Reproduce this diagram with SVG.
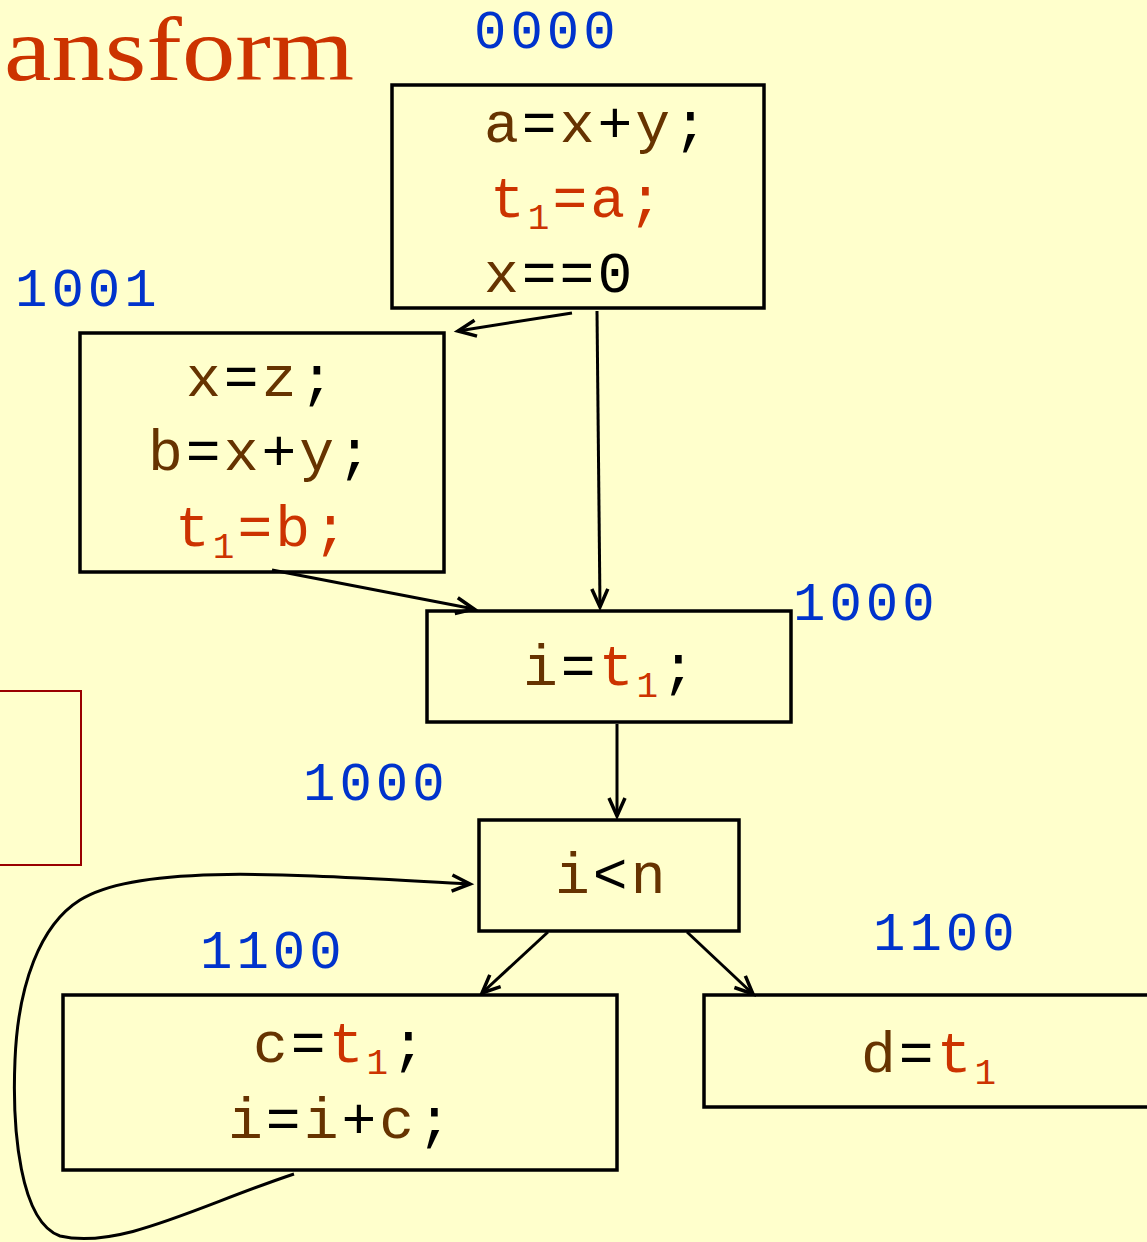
<svg xmlns="http://www.w3.org/2000/svg" width="1147" height="1242" viewBox="0 0 1147 1242">
<style>
.code{font-family:"Liberation Mono","Courier New",monospace;font-size:58px;letter-spacing:3px}
.br{fill:#663300}.bk{fill:#000}.rd{fill:#CC3300}
.lbl{font-family:"Liberation Mono","Courier New",monospace;font-size:54px;fill:#0033CC;letter-spacing:4px}
.box{fill:none;stroke:#000;stroke-width:3.5}
.edge{fill:none;stroke:#000;stroke-width:3}
.sub{font-size:36px}
</style>
<defs>
<marker id="ah2" markerWidth="30" markerHeight="30" refX="22" refY="15" orient="auto" markerUnits="userSpaceOnUse" viewBox="0 0 30 30">
<polyline points="4,7 22,15 4,23" fill="none" stroke="#000" stroke-width="3.5"/>
</marker>
</defs>
<rect width="1147" height="1242" fill="#FFFFCC"/>
<text x="4" y="80" font-family="'Liberation Serif','Times New Roman',serif" font-size="92" fill="#CC3300" textLength="350" lengthAdjust="spacingAndGlyphs">ansform</text>
<rect x="-10" y="691" width="91" height="174" fill="none" stroke="#990000" stroke-width="2"/>

<g id="connectors">
<line class="edge" x1="572" y1="313" x2="458" y2="331" marker-end="url(#ah2)"/>
<line class="edge" x1="597" y1="311" x2="600" y2="607" marker-end="url(#ah2)"/>
<line class="edge" x1="272" y1="570" x2="474" y2="609" marker-end="url(#ah2)"/>
<line class="edge" x1="617" y1="724" x2="617" y2="816" marker-end="url(#ah2)"/>
<line class="edge" x1="548" y1="932" x2="482" y2="993" marker-end="url(#ah2)"/>
<line class="edge" x1="687" y1="932" x2="753" y2="994" marker-end="url(#ah2)"/>
<path class="edge" d="M294,1174 C200,1205 120,1250 60,1236 C20,1222 12,1130 15,1060 C18,985 40,925 80,900 C140,862 300,875 470,884" marker-end="url(#ah2)"/>
</g>

<g id="n0000">
<rect class="box" x="392" y="85" width="372" height="223"/>
<text class="code" x="484" y="142"><tspan class="br">a</tspan><tspan class="bk">=</tspan><tspan class="br">x</tspan><tspan class="bk">+</tspan><tspan class="br">y</tspan><tspan class="bk">;</tspan></text>
<text class="code rd" x="490" y="217">t<tspan class="sub" dy="12">1</tspan><tspan dy="-12">=a;</tspan></text>
<text class="code" x="484" y="292"><tspan class="br">x</tspan><tspan class="bk">==0</tspan></text>
<text class="lbl" x="474" y="48">0000</text>
</g>

<g id="n1001">
<rect class="box" x="80" y="333" width="364" height="239"/>
<text class="code" x="186" y="396"><tspan class="br">x</tspan><tspan class="bk">=</tspan><tspan class="br">z</tspan><tspan class="bk">;</tspan></text>
<text class="code" x="148" y="470"><tspan class="br">b</tspan><tspan class="bk">=</tspan><tspan class="br">x</tspan><tspan class="bk">+</tspan><tspan class="br">y</tspan><tspan class="bk">;</tspan></text>
<text class="code rd" x="175" y="546">t<tspan class="sub" dy="12">1</tspan><tspan dy="-12">=b;</tspan></text>
<text class="lbl" x="15" y="306">1001</text>
</g>

<g id="n1000a">
<rect class="box" x="427" y="611" width="364" height="111"/>
<text class="code" x="523" y="685"><tspan class="br">i</tspan><tspan class="bk">=</tspan><tspan class="rd">t</tspan><tspan class="rd sub" dy="12">1</tspan><tspan class="bk" dy="-12">;</tspan></text>
<text class="lbl" x="793" y="620">1000</text>
</g>

<g id="n1000b">
<rect class="box" x="479" y="820" width="260" height="111"/>
<text class="code" x="555" y="893"><tspan class="br">i</tspan><tspan class="bk">&lt;</tspan><tspan class="br">n</tspan></text>
<text class="lbl" x="303" y="800">1000</text>
</g>

<g id="n1100a">
<rect class="box" x="63" y="995" width="554" height="175"/>
<text class="code" x="253" y="1062"><tspan class="br">c</tspan><tspan class="bk">=</tspan><tspan class="rd">t</tspan><tspan class="rd sub" dy="12">1</tspan><tspan class="bk" dy="-12">;</tspan></text>
<text class="code" x="228" y="1138"><tspan class="br">i</tspan><tspan class="bk">=</tspan><tspan class="br">i</tspan><tspan class="bk">+</tspan><tspan class="br">c</tspan><tspan class="bk">;</tspan></text>
<text class="lbl" x="200" y="968">1100</text>
</g>

<g id="n1100b">
<rect class="box" x="704" y="995" width="460" height="112"/>
<text class="code" x="861" y="1072"><tspan class="br">d</tspan><tspan class="bk">=</tspan><tspan class="rd">t</tspan><tspan class="rd sub" dy="12">1</tspan></text>
<text class="lbl" x="873" y="950">1100</text>
</g>
</svg>
